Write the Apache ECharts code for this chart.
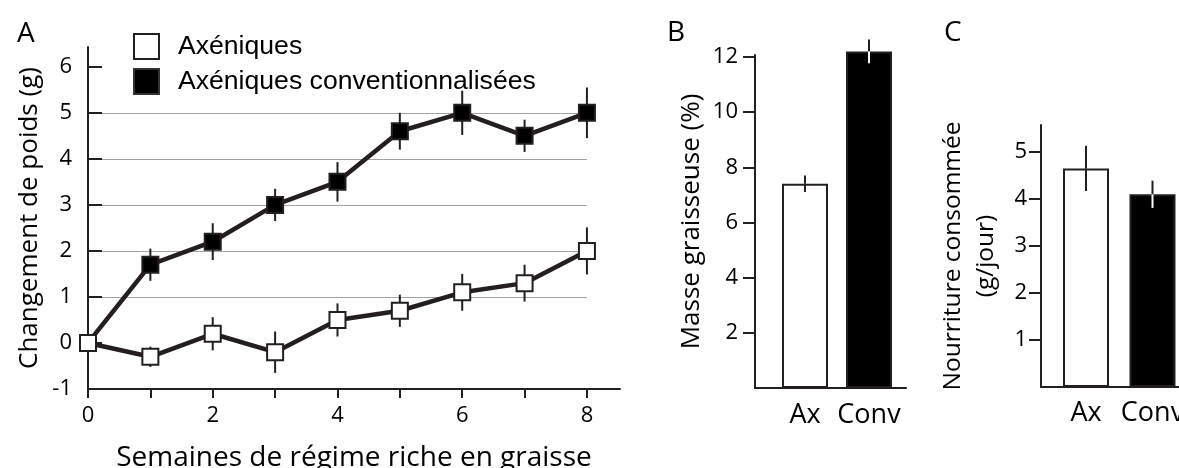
<!DOCTYPE html>
<html>
<head>
<meta charset="utf-8">
<script src="https://cdn.jsdelivr.net/npm/echarts@6/dist/echarts.min.js"></script>
<style>html,body{margin:0;padding:0;background:#fff;}#c{width:1179px;height:468px;}</style>
</head>
<body>
<div id="c"></div>
<script>
// ---- Panel A data ----
const weeks = [0, 1, 2, 3, 4, 5, 6, 7, 8];
const axValues = [0, -0.3, 0.2, -0.2, 0.5, 0.7, 1.1, 1.3, 2.0];
const axErrors = [0, 0.22, 0.36, 0.45, 0.36, 0.35, 0.4, 0.4, 0.51];
const convValues = [0, 1.7, 2.2, 3.0, 3.5, 4.6, 5.0, 4.5, 5.0];
const convErrors = [0, 0.35, 0.4, 0.35, 0.43, 0.4, 0.48, 0.35, 0.55];
const weightTicks = [-1, 0, 1, 2, 3, 4, 5, 6];
const weekTicks = [0, 1, 2, 3, 4, 5, 6, 7, 8];
const weekLabels = [0, 2, 4, 6, 8];
const gridValues = [1, 2, 3, 4, 5];
const seriesNames = ['Axéniques', 'Axéniques conventionnalisées'];

// ---- Panel B data ----
const groups = ['Ax', 'Conv'];
const fatValues = [7.4, 12.2];
const fatErrors = [0.3, 0.43];
const fatTicks = [2, 4, 6, 8, 10, 12];

// ---- Panel C data ----
const foodValues = [4.65, 4.1];
const foodErrors = [0.48, 0.29];
const foodTicks = [1, 2, 3, 4, 5];

// ---- styles ----
const INK = '#231f20';
const barFill = ['#ffffff', '#000000'];
const errLower = [INK, '#ffffff'];
const FONT = 'Open Sans';

const chart = echarts.init(document.getElementById('c'), null, {renderer: 'canvas'});

function errA(params, api) {
  const x = api.value(0), y = api.value(1), e = api.value(2);
  const t = api.coord([x, y + e]), b = api.coord([x, y - e]);
  return {type: 'line', shape: {x1: t[0], y1: t[1], x2: b[0], y2: b[1]},
    style: {stroke: INK, lineWidth: 2}};
}
function errBar(params, api) {
  const i = api.value(0), y = api.value(1), e = api.value(2);
  const t = api.coord([i, y + e]), m = api.coord([i, y]), b = api.coord([i, y - e]);
  return {type: 'group', children: [
    {type: 'line', shape: {x1: t[0], y1: t[1], x2: m[0], y2: m[1]}, style: {stroke: INK, lineWidth: 2}},
    {type: 'line', shape: {x1: m[0], y1: m[1], x2: b[0], y2: b[1]}, style: {stroke: errLower[i], lineWidth: 2}}
  ]};
}

const tickLabel = {fontFamily: FONT, fontSize: 22, color: '#000'};
const letterStyle = {fontFamily: FONT, fontSize: 28, fontWeight: 'normal', color: '#000'};

const option = {
  animation: false,
  backgroundColor: '#fff',
  title: [
    {text: 'A', left: 17, top: 20, padding: 0, textStyle: letterStyle},
    {text: 'B', left: 667, top: 19, padding: 0, textStyle: letterStyle},
    {text: 'C', left: 944, top: 19, padding: 0, textStyle: letterStyle}
  ],
  legend: {
    data: [
      {name: seriesNames[0], itemStyle: {color: '#fff', borderColor: INK, borderWidth: 2}},
      {name: seriesNames[1], itemStyle: {color: '#000', borderColor: '#333', borderWidth: 2}}
    ],
    orient: 'vertical', left: 133, top: 33, padding: 0,
    icon: 'rect', itemWidth: 25, itemHeight: 25, itemGap: 8,
    selectedMode: false,
    textStyle: {fontFamily: 'Liberation Sans', fontSize: 26.6, color: '#000', padding: [0, 0, 0, 14]}
  },
  grid: [
    {left: 88, top: 47, width: 532, bottom: 79, outerBoundsMode: 'none', containLabel: false},
    {left: 755, top: 55, width: 151, bottom: 80, outerBoundsMode: 'none', containLabel: false},
    {left: 773, top: 55, width: 128, bottom: 80, outerBoundsMode: 'none', containLabel: false},
    {left: 1041, top: 125, width: 220, bottom: 81, outerBoundsMode: 'none', containLabel: false},
    {left: 1052.75, top: 125, width: 133, bottom: 81, outerBoundsMode: 'none', containLabel: false}
  ],
  xAxis: [
    {gridIndex: 0, type: 'value', min: 0, max: 8.53, z: 1,
      name: 'Semaines de régime riche en graisse', nameLocation: 'middle', nameGap: 55,
      nameTextStyle: {fontFamily: FONT, fontSize: 28, color: '#000'},
      axisLine: {onZero: false, lineStyle: {color: INK, width: 2}},
      axisTick: {customValues: weekTicks, length: 9, lineStyle: {color: INK, width: 2}},
      axisLabel: {customValues: weekLabels, margin: 16, ...tickLabel},
      splitLine: {show: false}},
    {gridIndex: 1, type: 'value', min: 0, max: 1,
      axisLine: {onZero: false, lineStyle: {color: INK, width: 2}}, axisTick: {show: false}, axisLabel: {show: false}, splitLine: {show: false}},
    {gridIndex: 2, type: 'category', data: groups,
      axisLine: {show: false}, axisTick: {show: false},
      axisLabel: {interval: 0, margin: 14, fontFamily: FONT, fontSize: 27, color: '#000'}},
    {gridIndex: 3, type: 'value', min: 0, max: 1,
      axisLine: {onZero: false, lineStyle: {color: INK, width: 2}}, axisTick: {show: false}, axisLabel: {show: false}, splitLine: {show: false}},
    {gridIndex: 4, type: 'category', data: groups,
      axisLine: {show: false}, axisTick: {show: false},
      axisLabel: {interval: 0, margin: 13, fontFamily: FONT, fontSize: 27, color: '#000'}}
  ],
  yAxis: [
    {gridIndex: 0, type: 'value', min: -1, max: 6.43, z: 1,
      name: 'Changement de poids (g)', nameLocation: 'middle', nameGap: 45,
      nameTextStyle: {fontFamily: FONT, fontSize: 26, color: '#000'},
      axisLine: {onZero: false, lineStyle: {color: INK, width: 2}},
      axisTick: {customValues: weightTicks, inside: true, length: 14, lineStyle: {color: INK, width: 2}},
      axisLabel: {customValues: weightTicks, margin: 16, ...tickLabel},
      splitLine: {show: false}},
    {gridIndex: 1, type: 'value', min: 0, max: 12.07,
      name: 'Masse graisseuse (%)', nameLocation: 'middle', nameGap: 50,
      nameTextStyle: {fontFamily: FONT, fontSize: 26, color: '#000'},
      axisLine: {show: true, onZero: false, lineStyle: {color: INK, width: 2}},
      axisTick: {customValues: fatTicks, length: 12, lineStyle: {color: INK, width: 2}},
      axisLabel: {customValues: fatTicks, margin: 17, ...tickLabel},
      splitLine: {show: false}},
    {gridIndex: 2, type: 'value', min: 0, max: 12.07, show: false},
    {gridIndex: 3, type: 'value', min: 0, max: 5.574,
      name: 'Nourriture consommée\n(g/jour)', nameLocation: 'middle', nameGap: 38,
      nameTextStyle: {fontFamily: FONT, fontSize: 24.5, color: '#000', lineHeight: 33},
      axisLine: {show: true, onZero: false, lineStyle: {color: INK, width: 2}},
      axisTick: {customValues: foodTicks, length: 12, lineStyle: {color: INK, width: 2}},
      axisLabel: {customValues: foodTicks, margin: 14, ...tickLabel},
      splitLine: {show: false}},
    {gridIndex: 4, type: 'value', min: 0, max: 5.574, show: false}
  ],
  series: [
    {type: 'line', xAxisIndex: 0, yAxisIndex: 0, data: [], z: 0, silent: true,
      markLine: {z: 0, silent: true, symbol: 'none', label: {show: false},
        lineStyle: {color: '#a3a3a3', width: 1.2, type: 'solid'},
        data: gridValues.map(v => [{coord: [weeks[0], v]}, {coord: [weeks[weeks.length - 1], v]}])}},
    {type: 'custom', xAxisIndex: 0, yAxisIndex: 0, z: 2, renderItem: errA,
      data: weeks.map((w, i) => [w, convValues[i], convErrors[i]])},
    {type: 'custom', xAxisIndex: 0, yAxisIndex: 0, z: 2, renderItem: errA,
      data: weeks.map((w, i) => [w, axValues[i], axErrors[i]])},
    {name: seriesNames[1], type: 'line', xAxisIndex: 0, yAxisIndex: 0, z: 3,
      data: weeks.map((w, i) => [w, convValues[i]]),
      symbol: 'rect', symbolSize: 16, showAllSymbol: true,
      lineStyle: {color: INK, width: 4.5},
      itemStyle: {color: '#000', borderColor: INK, borderWidth: 2}},
    {name: seriesNames[0], type: 'line', xAxisIndex: 0, yAxisIndex: 0, z: 4,
      data: weeks.map((w, i) => [w, axValues[i]]),
      symbol: 'rect', symbolSize: 16, showAllSymbol: true,
      lineStyle: {color: INK, width: 4.5},
      itemStyle: {color: '#fff', borderColor: INK, borderWidth: 2}},
    {type: 'bar', xAxisIndex: 2, yAxisIndex: 2, data: fatValues, barWidth: 46, clip: false,
      itemStyle: {color: p => barFill[p.dataIndex], borderColor: INK, borderWidth: 2}},
    {type: 'custom', xAxisIndex: 2, yAxisIndex: 2, z: 3, renderItem: errBar,
      data: groups.map((g, i) => [i, fatValues[i], fatErrors[i]])},
    {type: 'bar', xAxisIndex: 4, yAxisIndex: 4, data: foodValues, barWidth: 46, clip: false,
      itemStyle: {color: p => barFill[p.dataIndex], borderColor: INK, borderWidth: 2}},
    {type: 'custom', xAxisIndex: 4, yAxisIndex: 4, z: 3, renderItem: errBar,
      data: groups.map((g, i) => [i, foodValues[i], foodErrors[i]])}
  ]
};
chart.setOption(option);
</script>
</body>
</html>
